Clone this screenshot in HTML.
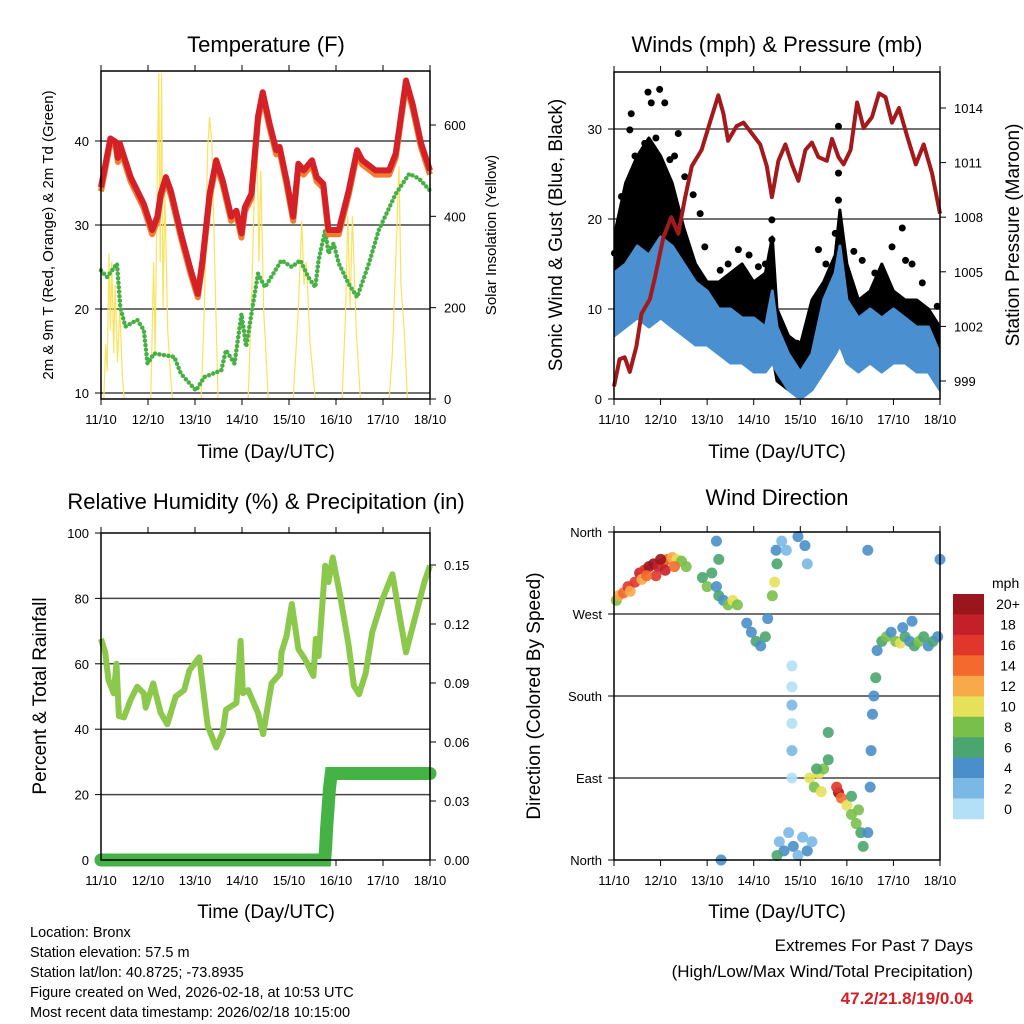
<!DOCTYPE html>
<html><head><meta charset="utf-8">
<style>
html,body{margin:0;padding:0;background:#fff;}
svg{display:block;font-family:"Liberation Sans",sans-serif;}
</style></head>
<body>
<svg id="root" width="1024" height="1024" viewBox="0 0 1024 1024" xmlns="http://www.w3.org/2000/svg">
<rect width="1024" height="1024" fill="#fff"/>
<g id="layer"></g>
<g font-size="22" text-anchor="middle" fill="#000">
<text x="266" y="52">Temperature (F)</text>
<text x="777" y="52">Winds (mph) &amp; Pressure (mb)</text>
<text x="266" y="509">Relative Humidity (%) &amp; Precipitation (in)</text>
<text x="777" y="505">Wind Direction</text>
</g>
<g font-size="19" text-anchor="middle">
<text x="266" y="458">Time (Day/UTC)</text>
<text x="777" y="458">Time (Day/UTC)</text>
<text x="266" y="918">Time (Day/UTC)</text>
<text x="777" y="918">Time (Day/UTC)</text>
<text transform="translate(53,235) rotate(-90)" font-size="15">2m &amp; 9m T (Red, Orange) &amp; 2m Td (Green)</text>
<text transform="translate(496,235) rotate(-90)" font-size="15">Solar Insolation (Yellow)</text>
<text transform="translate(562,235) rotate(-90)">Sonic Wind &amp; Gust (Blue, Black)</text>
<text transform="translate(1019,235) rotate(-90)">Station Pressure (Maroon)</text>
<text transform="translate(46,696) rotate(-90)">Percent &amp; Total Rainfall</text>
<text transform="translate(540,696) rotate(-90)">Direction (Colored By Speed)</text>
</g>
<g font-size="14.5" fill="#000">
<text x="30" y="937">Location: Bronx</text>
<text x="30" y="957">Station elevation: 57.5 m</text>
<text x="30" y="977">Station lat/lon: 40.8725; -73.8935</text>
<text x="30" y="997">Figure created on Wed, 2026-02-18, at 10:53 UTC</text>
<text x="30" y="1017">Most recent data timestamp: 2026/02/18 10:15:00</text>
</g>
<g font-size="17" text-anchor="end">
<text x="973" y="951">Extremes For Past 7 Days</text>
<text x="973" y="977">(High/Low/Max Wind/Total Precipitation)</text>
<text x="973" y="1004" font-weight="bold" fill="#d42027">47.2/21.8/19/0.04</text>
</g>
</svg>
<script>
// ---------- data ----------
const dayLabels = ["11/10","12/10","13/10","14/10","15/10","16/10","17/10","18/10"];
const tempTimes = [0,0.2,0.31,0.36,0.4,0.63,0.91,1.09,1.2,1.27,1.38,1.49,1.7,1.91,2.06,2.16,2.31,2.45,2.59,2.77,2.88,2.99,3.06,3.2,3.34,3.44,3.59,3.73,3.8,3.95,4.09,4.2,4.31,4.49,4.59,4.73,4.84,5.06,5.27,5.45,5.56,5.84,6.13,6.27,6.49,6.63,6.81,7.0];
const tempRed = [34.5,40.3,39.9,38,39.7,35.7,32.5,29.4,31,33.7,35.7,34,29,24.6,21.8,25.8,33.7,37.7,35.3,31,31.7,29,32.1,33.7,42.9,45.8,42,38.9,39.3,35.3,31,37.3,36.5,37.7,35.7,34.9,29.4,29.4,34.1,38.9,37.7,36.5,36.5,38.5,47.2,44.4,39.7,36.5];
const tempOrange = [34,39.8,39.4,37.5,39.2,35.2,32,28.9,30.5,33.2,35.2,33.5,28.5,24.1,21.4,25.3,33.2,37.2,34.8,30.5,31.2,28.5,31.6,33.2,42.4,45.3,41.5,38.4,38.8,34.8,30.5,36.8,36,37.2,35.2,34.4,28.9,28.9,33.6,38.4,37.2,36,36,38,46.7,43.9,39.2,36];
const dewTimes = [0,0.13,0.34,0.41,0.52,0.77,0.91,0.99,1.13,1.56,1.7,2.02,2.2,2.56,2.66,2.84,2.99,3.09,3.2,3.34,3.49,3.84,4.06,4.24,4.41,4.56,4.63,4.77,4.84,4.95,5.06,5.27,5.45,5.7,5.91,6.27,6.56,6.77,7.0];
const dewValues = [24.6,23.8,25.4,20.2,17.9,18.7,17.5,13.5,14.7,14.3,12.3,10.3,11.9,12.7,15.1,13.5,19.4,15.5,19.4,24.2,22.6,25.8,25,25.8,23.8,22.6,25.8,29.4,26.6,27.8,25.4,23,21.4,25.4,29.4,33.7,36.1,35.5,34.1];
const solarTimes = [0.06,0.1,0.13,0.17,0.2,0.23,0.27,0.3,0.35,0.4,0.45,0.49,1.06,1.12,1.15,1.2,1.23,1.26,1.29,1.32,1.36,1.42,1.48,1.52,2.13,2.2,2.27,2.31,2.36,2.42,2.49,3.13,3.2,3.28,3.32,3.36,3.4,3.46,3.56,4.09,4.2,4.27,4.32,4.37,4.45,4.56,5.13,5.2,5.25,5.3,5.35,5.43,5.52,6.13,6.2,6.27,6.34,6.38,6.45,6.52];
const solarValues = [0,120,60,320,150,300,100,250,80,200,60,0,0,300,100,500,713,300,713,200,450,150,50,0,0,200,550,617,560,300,0,0,200,530,580,300,500,200,0,0,200,390,250,300,120,0,0,180,400,200,400,150,0,0,100,300,510,250,150,0];
const windTimes = [0,0.25,0.5,0.75,1.0,1.25,1.5,1.75,2.0,2.25,2.5,2.75,3.0,3.25,3.4,3.5,3.75,4.0,4.25,4.5,4.75,4.85,5.0,5.25,5.5,5.75,6.0,6.25,6.5,6.75,7.0];
const windLow = [7,8,9,8,9,8,7,6,6,5,4,4,3,3,4,3,1,0,1,3,5,6,4,3,4,3,4,4,3,3,1];
const windHigh = [14,15,17,16,18,17,15,13,12,10,10,9,9,8,12,8,5,3,5,11,14,17,11,9,10,9,10,9,8,8,5];
const gustLow = [9,11,12,13,12,10,8,7,7,6,5,6,4,4,5,2,1,1,3,6,7,8,6,5,6,5,5,5,4,4,2];
const gustHigh = [18,24,27,29,27,24,19,15,13,13,14,15,13,14,18,10,7,6,11,13,16,21,15,11,12,15,12,11,11,10,8];
const gustPeakTimes = [0.73,0.98,0.37,1.09,0.34,0.8,1.38,0.16,0.52,1.7,1.85,1.2,0.66,1.52,1.95,2.28,2.67,3.1,3.39,3.39,3.68,3.93,4.39,4.82,4.82,4.82,4.75,5.15,5.33,5.97,6.19,6.26,6.62,6.94,0.12,0.01,0.45,0.9,1.3,2.45,2.9,3.25,4.55,5.6,6.4];
const gustPeakValues = [34.1,34.4,31.7,32.9,29.9,32.9,29.5,22.5,26.6,22.7,20.6,26.6,28.4,24.7,16.9,14.3,16.6,14.7,19.9,17.7,6.9,6.2,16.6,30.3,25.1,22.1,18.4,16.4,15.4,16.9,19,15.4,12.9,10.3,16.2,16.2,27,29,27,15,16,15,15,14,15];
const presTimes = [0,0.12,0.23,0.34,0.48,0.59,0.77,0.88,1.06,1.23,1.38,1.52,1.67,1.88,2.06,2.24,2.35,2.45,2.63,2.78,2.96,3.14,3.28,3.39,3.53,3.68,3.82,3.96,4.11,4.25,4.39,4.57,4.68,4.82,4.93,5.08,5.22,5.36,5.54,5.69,5.83,5.97,6.12,6.3,6.48,6.65,6.83,7.0];
const presValues = [998.7,1000.2,1000.3,999.5,1000.9,1002.7,1003.5,1004.7,1006.9,1008,1007.1,1009,1010.8,1011.7,1013.2,1014.7,1013.7,1012.2,1013,1013.2,1012.6,1012,1010.8,1009.1,1011.1,1012,1010.9,1010,1011.7,1012.1,1011.3,1011.1,1012.3,1011.3,1010.9,1011.7,1014.3,1012.9,1013.5,1014.8,1014.6,1013.2,1014,1012.4,1010.9,1012,1010.4,1008.2];
const rhTimes = [0,0.09,0.16,0.27,0.33,0.38,0.49,0.63,0.77,0.91,0.95,1.11,1.27,1.41,1.59,1.77,1.88,2.09,2.27,2.45,2.59,2.66,2.88,2.97,3.02,3.13,3.34,3.45,3.63,3.81,3.84,3.95,4.06,4.2,4.34,4.52,4.57,4.63,4.77,4.84,4.93,5.09,5.27,5.38,5.49,5.63,5.77,5.99,6.2,6.34,6.49,6.71,6.88,7.0];
const rhValues = [67.6,63.5,55,51,60,44,43.6,49,53,51,46.6,54,45,41.5,50,52,58,62,41,34.4,39,46,48,67,51,52,45,38.5,54,57,63.5,68.6,78.3,64.5,61.4,56.3,67.6,62.4,90,85,92.5,80.8,65.5,53.3,50.7,57,69.6,79.8,87.4,75.7,63.5,75.7,85,90];
const precipTimes = [0,4.76,4.78,4.8,4.83,4.86,4.9,7.0];
const precipValues = [0,0,0.007,0.016,0.026,0.036,0.044,0.044];
const dirTimes = [0.05,0.1,0.2,0.3,0.35,0.45,0.55,0.65,0.75,0.85,0.95,1.05,1.15,1.25,1.35,1.45,1.55,0.6,0.9,1.1,1.0,0.7,1.3,1.9,2.0,2.1,2.2,2.25,2.35,2.45,2.55,2.65,2.2,2.25,2.85,2.95,3.05,3.15,3.25,3.3,3.4,3.45,3.5,3.48,3.6,3.7,3.95,4.1,4.15,3.82,3.82,3.82,3.82,3.82,3.82,3.55,3.65,3.75,3.85,3.95,4.05,4.15,4.25,3.5,4.2,4.3,4.4,4.5,4.6,4.6,4.45,4.35,4.82,4.78,4.88,5.0,5.1,5.2,5.3,5.35,5.1,5.25,5.45,5.5,5.52,5.55,5.58,5.62,5.65,5.75,5.85,5.95,6.05,6.15,6.25,6.35,6.45,6.55,6.65,6.75,6.85,6.95,6.2,6.4,5.45,7.0,2.3];
const dirValues = [285,290,293,300,295,305,315,318,322,325,322,326,330,332,330,328,322,308,312,318,330,312,322,310,300,315,300,290,285,280,285,280,350,330,260,250,240,235,245,265,290,305,325,340,350,340,355,345,325,213,190,170,150,120,90,20,10,30,15,5,25,10,20,5,90,80,95,100,110,140,75,100,74,80,68,60,50,40,30,15,70,55,30,80,120,160,180,200,230,240,245,250,240,238,245,240,235,240,245,235,240,245,255,262,340,330,0];
const dirSpeeds = [8,12,14,16,12,15,18,16,20,20,18,16,14,12,10,8,8,12,16,18,20,14,14,6,8,6,4,6,4,8,10,8,4,6,4,4,6,4,6,4,8,10,6,4,2,2,4,4,2,0,0,2,0,2,0,2,4,2,4,2,2,4,2,6,10,8,10,8,6,6,10,6,20,16,14,10,8,8,6,6,6,8,4,4,4,4,4,6,4,6,8,4,8,10,6,4,6,8,6,4,6,4,4,4,4,4,4];
const colorLabels = ["20+","18","16","14","12","10","8","6","4","2","0"];
const colorSwatches = ["#9b151c","#c4202a","#e0362b","#f26a2c","#f8a94a","#e6e05a","#79c04b","#4aa56f","#4a8fc9","#7ab8e5","#b3e0f7"];
const tempTicks = [10,20,30,40];
const solarTicks = [0,200,400,600];
const windTicks = [0,10,20,30];
const presTicks = [999,1002,1005,1008,1011,1014];
const rhTicks = [0,20,40,60,80,100];
const precipTicks = [0,0.03,0.06,0.09,0.12,0.15];
const dirTicks = [0,90,180,270,360];
const dirTickLabels = ["North","East","South","West","North"];

// ---------- helpers ----------
const NS = "http://www.w3.org/2000/svg";
const layer = document.getElementById("layer");
function lin(d0,d1,r0,r1){return v=>r0+(v-d0)*(r1-r0)/(d1-d0);}
function mk(tag, attrs, parent){
  const el = document.createElementNS(NS, tag);
  for (const k in attrs) el.setAttribute(k, attrs[k]);
  (parent||layer).appendChild(el);
  return el;
}
function pathD(xs, ys, sx, sy){
  return xs.map((t,i)=>(i?"L":"M")+sx(t).toFixed(1)+","+sy(ys[i]).toFixed(1)).join("");
}
function bandD(xs, lo, hi, sx, sy){
  let d = xs.map((t,i)=>(i?"L":"M")+sx(t).toFixed(1)+","+sy(hi[i]).toFixed(1)).join("");
  for (let i=xs.length-1;i>=0;i--) d += "L"+sx(xs[i]).toFixed(1)+","+sy(lo[i]).toFixed(1);
  return d+"Z";
}
function speedColor(s){
  const idx = Math.max(0, Math.min(10, Math.round(s/2)));
  return colorSwatches[10-idx];
}

// ---------- panel scaffolding ----------
const panels = [
  {x0:101,x1:430,y0:71,y1:399,name:"temperature"},
  {x0:614,x1:940,y0:72,y1:399,name:"winds"},
  {x0:101,x1:430,y0:533,y1:860,name:"humidity"},
  {x0:614,x1:940,y0:532,y1:860,name:"direction"}
];
panels.forEach(p=>{
  const sx = lin(0,7,p.x0,p.x1);
  dayLabels.forEach((lab,i)=>{
    const x = sx(i);
    const tb = mk("line",{x1:x,x2:x,y1:p.y1,y2:p.y1+6,stroke:"#000","stroke-width":1});
    
    
    const tt = mk("line",{x1:x,x2:x,y1:p.y0,y2:p.y0-6,stroke:"#000","stroke-width":1});
    
    
    const tx = mk("text",{x:x,y:p.y1+25,"font-size":13,"text-anchor":"middle"});
    tx.textContent = lab;
    
    
  });
});

function leftAxis(p, ticks, sy, labels, grid){
  ticks.forEach((v,i)=>{
    const y = sy(v);
    if (grid && y>p.y0+1 && y<p.y1-1){
      const g = mk("line",{x1:p.x0,x2:p.x1,y1:y,y2:y,stroke:"#444","stroke-width":1.5});
      
      
    }
    const t = mk("line",{x1:p.x0-6,x2:p.x0,y1:y,y2:y,stroke:"#000"});
    
    
    const tx = mk("text",{x:p.x0-12,y:y+5,"font-size":13,"text-anchor":"end"});
    tx.textContent = labels ? labels[i] : String(v);
    
    
  });
}
function rightAxis(p, ticks, sy, fmt){
  ticks.forEach(v=>{
    const y = sy(v);
    const t = mk("line",{x1:p.x1,x2:p.x1+6,y1:y,y2:y,stroke:"#000"});
    
    
    const tx = mk("text",{x:p.x1+14,y:y+5,"font-size":13,"text-anchor":"start"});
    tx.textContent = fmt(v);
    
    
  });
}

// ---------- panel 1: temperature ----------
(function(){
  const p = panels[0];
  const sx = lin(0,7,p.x0,p.x1), sy = lin(10,40,393,141), ss = lin(0,600,399,125);
  leftAxis(p, tempTicks, sy, null, true);
  rightAxis(p, solarTicks, ss, v=>String(v));
  const clip = mk("clipPath",{id:"clip1"});
  mk("rect",{x:p.x0,y:p.y0,width:p.x1-p.x0,height:p.y1-p.y0},clip);
  const solar = mk("path",{d:pathD(solarTimes,solarValues,sx,ss),fill:"none",stroke:"#fce15a","stroke-width":1.2,"clip-path":"url(#clip1)"});
  
  
  const dew = mk("path",{d:pathD(dewTimes,dewValues,sx,sy),fill:"none",stroke:"#46b045","stroke-width":4.5,"stroke-linecap":"round","stroke-dasharray":"0 4.5"});
  
  
  const or = mk("path",{d:pathD(tempTimes,tempOrange,sx,sy),fill:"none",stroke:"#f47c30","stroke-width":6,"stroke-linejoin":"round"});
  
  
  const red = mk("path",{d:pathD(tempTimes,tempRed,sx,sy),fill:"none",stroke:"#d42027","stroke-width":6,"stroke-linejoin":"round"});
  
  
})();

// ---------- panel 2: winds ----------
(function(){
  const p = panels[1];
  const sx = lin(0,7,p.x0,p.x1), sy = lin(0,30,399,129), sp = lin(999,1014,381,108);
  leftAxis(p, windTicks, sy, null, true);
  rightAxis(p, presTicks, sp, v=>String(v));
  const clip = mk("clipPath",{id:"clip2"});
  mk("rect",{x:p.x0,y:p.y0,width:p.x1-p.x0,height:p.y1-p.y0},clip);
  const gust = mk("path",{d:bandD(windTimes,gustLow,gustHigh,sx,sy),fill:"#000",stroke:"#000","stroke-width":3,"stroke-linejoin":"round","clip-path":"url(#clip2)"});
  
  
  gustPeakTimes.forEach((t,i)=>{
    const c = mk("circle",{cx:sx(t),cy:sy(gustPeakValues[i]),r:3.5,fill:"#000"});
    
    
  });
  const wind = mk("path",{d:bandD(windTimes,windLow,windHigh,sx,sy),fill:"#4a90d0",stroke:"#4a90d0","stroke-width":3,"stroke-linejoin":"round","clip-path":"url(#clip2)"});
  
  
  const pres = mk("path",{d:pathD(presTimes,presValues,sx,sp),fill:"none",stroke:"#a3191c","stroke-width":4,"stroke-linejoin":"round"});
  
  
})();

// ---------- panel 3: humidity ----------
(function(){
  const p = panels[2];
  const sx = lin(0,7,p.x0,p.x1), sy = lin(0,100,860,533), spr = lin(0,0.15,860,565);
  leftAxis(p, rhTicks, sy, null, true);
  rightAxis(p, precipTicks, spr, v=>v.toFixed(2));
  const rh = mk("path",{d:pathD(rhTimes,rhValues,sx,sy),fill:"none",stroke:"#8cc84b","stroke-width":6,"stroke-linejoin":"round"});
  
  
  const pr = mk("path",{d:pathD(precipTimes,precipValues,sx,spr),fill:"none",stroke:"#45b245","stroke-width":13,"stroke-linecap":"round"});
  
  
})();

// ---------- panel 4: wind direction ----------
(function(){
  const p = panels[3];
  const sx = lin(0,7,p.x0,p.x1), sy = lin(0,360,860,532);
  leftAxis(p, dirTicks, sy, dirTickLabels, true);
  dirTimes.forEach((t,i)=>{
    const c = mk("circle",{cx:sx(t),cy:sy(dirValues[i]),r:5.5,fill:speedColor(dirSpeeds[i]),"fill-opacity":0.9});
    
    
  });
  const ul = mk("text",{x:992,y:588,"font-size":14});
  ul.textContent = "mph";
  
  
  const h = 225/colorSwatches.length;
  colorSwatches.forEach((c,i)=>{
    const r = mk("rect",{x:953,y:594+i*h,width:31,height:h+0.3,fill:c});
    
    
    const tx = mk("text",{x:1008,y:594+i*h+h/2+5,"font-size":14,"text-anchor":"middle"});
    tx.textContent = colorLabels[i];
    
    
  });
})();

// frames on top
panels.forEach(p=>{
  const f = mk("rect",{x:p.x0,y:p.y0,width:p.x1-p.x0,height:p.y1-p.y0,fill:"none",stroke:"#000","stroke-width":1.5});
  
  
});
</script>
</body></html>
